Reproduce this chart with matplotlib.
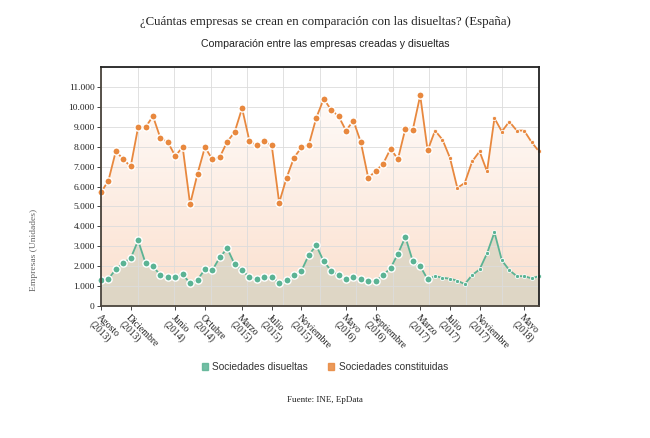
import numpy as np
import matplotlib
matplotlib.use("Agg")
import matplotlib.pyplot as plt
from matplotlib.colors import LinearSegmentedColormap
from matplotlib.ticker import FuncFormatter
from matplotlib.patches import Patch

# Datos mensuales: agosto 2013 - julio 2018
meses = ["Enero", "Febrero", "Marzo", "Abril", "Mayo", "Junio", "Julio", "Agosto",
         "Septiembre", "Octubre", "Noviembre", "Diciembre"]
etiquetas = [(m, a) for a in range(2013, 2019) for m in meses][7:67]

constituidas = [5700, 6300, 7780, 7360, 7010, 8980, 8980, 9530, 8430, 8230,
                7530, 7980, 5110, 6640, 7980, 7360, 7480, 8250, 8730, 9930,
                8280, 8060, 8260, 8060, 5190, 6440, 7450, 7960, 8100, 9450,
                10400, 9850, 9530, 8810, 9300, 8230, 6430, 6780, 7140, 7890,
                7380, 8900, 8850, 10570, 7810, 8810, 8350, 7450, 5930, 6180,
                7260, 7760, 6760, 9430, 8760, 9260, 8810, 8810, 8230, 7760]

disueltas = [1320, 1370, 1840, 2170, 2400, 3290, 2150, 1990, 1550, 1450,
             1440, 1590, 1140, 1320, 1840, 1800, 2440, 2900, 2100, 1800,
             1440, 1370, 1440, 1440, 1170, 1290, 1540, 1770, 2570, 3040,
             2240, 1770, 1550, 1350, 1470, 1350, 1250, 1250, 1550, 1900,
             2620, 3470, 2250, 2000, 1340, 1500, 1420, 1370, 1270, 1100,
             1550, 1840, 2640, 3700, 2290, 1800, 1500, 1500, 1390, 1500]

ticks_meses = [("Agosto", 2013), ("Diciembre", 2013), ("Junio", 2014), ("Octubre", 2014),
               ("Marzo", 2015), ("Julio", 2015), ("Noviembre", 2015), ("Mayo", 2016),
               ("Septiembre", 2016), ("Marzo", 2017), ("Julio", 2017), ("Noviembre", 2017),
               ("Mayo", 2018)]

c_naranja = "#e8883e"
c_verde = "#5bb394"

x = np.arange(len(etiquetas))
n = len(x)

fig = plt.figure(figsize=(6.5, 4.38), dpi=100)
ax = fig.add_axes([0.1554, 0.3014, 0.8292 - 0.1554, 0.847 - 0.3014])
ax.set_xlim(0, n - 1)
ax.set_ylim(0, 12000)

# rellenos con degradado
def degradado(serie, c_top, c_bot, z):
    cmap = LinearSegmentedColormap.from_list("g", [c_bot, c_top])
    grad = np.linspace(0, 1, 256).reshape(-1, 1)
    im = ax.imshow(grad, cmap=cmap, aspect="auto", origin="lower",
                   extent=[0, n - 1, 0, 12000], zorder=z)
    poly = ax.fill_between(x, serie, 0, color="none", zorder=z)
    im.set_clip_path(poly.get_paths()[0], transform=ax.transData)

degradado(constituidas, "#ffffff", "#fbdfcd", 1)
degradado(disueltas, "#e7e0d0", "#ded6c5", 2)

# rejilla
for v in range(0, 12001, 1000):
    ax.axhline(v, color="#dcdcdc", lw=0.6, zorder=3)
for v in np.linspace(0, n - 1, 13):
    ax.axvline(v, color="#dcdcdc", lw=0.6, zorder=3)

ax.plot(x, constituidas, color=c_naranja, lw=1.3, zorder=4, clip_on=False)
ax.plot(x, disueltas, color=c_verde, lw=1.3, zorder=4, clip_on=False)

grandes = 45
for serie, col in [(constituidas, c_naranja), (disueltas, c_verde)]:
    ax.plot(x[:grandes], serie[:grandes], ls="none", marker="o", ms=5.2,
            mfc=col, mec="white", mew=1.0, zorder=5, clip_on=False)
    ax.plot(x[grandes:], serie[grandes:], ls="none", marker="o", ms=3,
            mfc=col, mec="white", mew=0.6, zorder=5, clip_on=False)

for s in ax.spines.values():
    s.set_color("#222222")
    s.set_linewidth(1.3)
    s.set_zorder(6)
ax.spines["bottom"].set_color("#4a443c")
ax.spines["left"].set_color("#4a443c")

serif = "Liberation Serif"
sans = "Liberation Sans"

ax.set_yticks(range(0, 12000, 1000))
ax.yaxis.set_major_formatter(FuncFormatter(lambda v, p: f"{int(v):,}".replace(",", ".")))
for t in ax.get_yticklabels():
    t.set_fontfamily(serif)
    t.set_fontsize(6.8)
    t.set_color("#222222")
ax.tick_params(axis="y", length=3, width=0.7, pad=1.5, color="#444444")

pos = [etiquetas.index(t) for t in ticks_meses]
ax.set_xticks(pos)
ax.set_xticklabels([f"{m}\n({a})" for m, a in ticks_meses], rotation=-45,
                   ha="left", va="top", rotation_mode="anchor",
                   fontfamily=serif, fontsize=7, color="#222222", linespacing=1.0)
ax.tick_params(axis="x", length=3, width=0.7, pad=2, color="#444444")

fig.text(0.052, 0.43, "Empresas (Unidades)", rotation=90, ha="center", va="center",
         fontfamily=serif, fontsize=6.8, color="#666666")

fig.text(0.5, 0.949, "¿Cuántas empresas se crean en comparación con las disueltas? (España)",
         ha="center", va="center", fontfamily=serif, fontsize=9.3, color="#222222")
fig.text(0.5, 0.899, "Comparación entre las empresas creadas y disueltas",
         ha="center", va="center", fontfamily=sans, fontsize=7.6, color="#222222")

# leyenda
h = [Patch(color=c_verde, label="Sociedades disueltas", alpha=0.85),
     Patch(color=c_naranja, label="Sociedades constituidas", alpha=0.85)]
leg = fig.legend(handles=h, loc="center", bbox_to_anchor=(0.5, 0.162), ncol=2,
                 frameon=False, prop={"family": sans, "size": 7.3},
                 handlelength=0.6, handleheight=0.6, handletextpad=0.4, columnspacing=2.0)
for t in leg.get_texts():
    t.set_color("#333333")

fig.text(0.5, 0.087, "Fuente: INE, EpData", ha="center", va="center",
         fontfamily=serif, fontsize=6.5, color="#222222")

fig.savefig("out.png", dpi=100)
